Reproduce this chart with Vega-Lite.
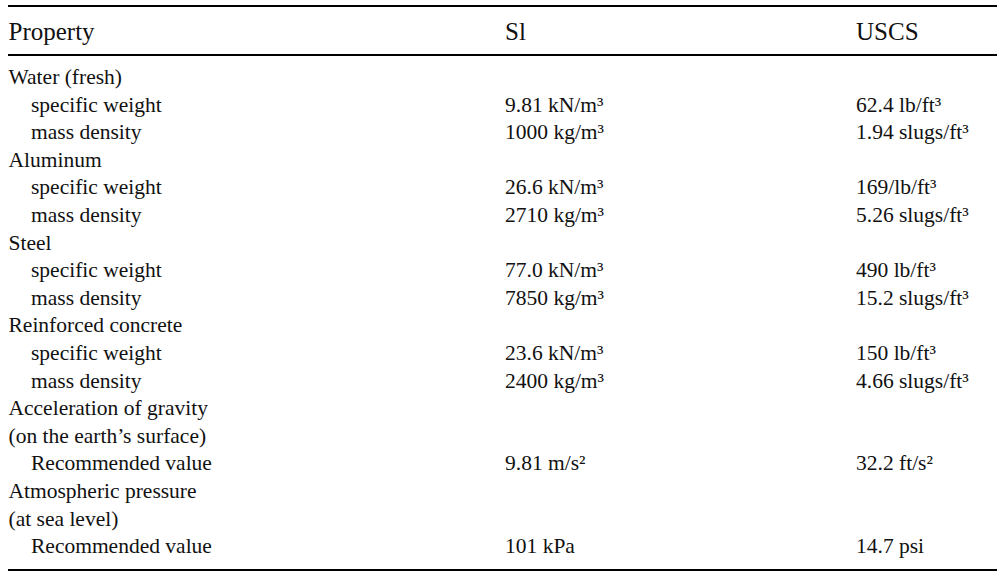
{
  "$schema": "https://vega.github.io/schema/vega-lite/v6.json",
  "autosize": {"type": "fit", "contains": "padding"},
  "width": 1007,
  "height": 573,
  "padding": {"left": 7, "right": 9, "top": 0, "bottom": 0},
  "background": "white",
  "config": {"view": {"stroke": null}},
  "datasets": {
    "cells": [
      {"row": 1, "col": 0, "text": "Water (fresh)"},
      {"row": 2, "col": 1, "text": "specific weight"},
      {"row": 2, "col": 2, "text": "9.81 kN/m³"},
      {"row": 2, "col": 3, "text": "62.4 lb/ft³"},
      {"row": 3, "col": 1, "text": "mass density"},
      {"row": 3, "col": 2, "text": "1000 kg/m³"},
      {"row": 3, "col": 3, "text": "1.94 slugs/ft³"},
      {"row": 4, "col": 0, "text": "Aluminum"},
      {"row": 5, "col": 1, "text": "specific weight"},
      {"row": 5, "col": 2, "text": "26.6 kN/m³"},
      {"row": 5, "col": 3, "text": "169/lb/ft³"},
      {"row": 6, "col": 1, "text": "mass density"},
      {"row": 6, "col": 2, "text": "2710 kg/m³"},
      {"row": 6, "col": 3, "text": "5.26 slugs/ft³"},
      {"row": 7, "col": 0, "text": "Steel"},
      {"row": 8, "col": 1, "text": "specific weight"},
      {"row": 8, "col": 2, "text": "77.0 kN/m³"},
      {"row": 8, "col": 3, "text": "490 lb/ft³"},
      {"row": 9, "col": 1, "text": "mass density"},
      {"row": 9, "col": 2, "text": "7850 kg/m³"},
      {"row": 9, "col": 3, "text": "15.2 slugs/ft³"},
      {"row": 10, "col": 0, "text": "Reinforced concrete"},
      {"row": 11, "col": 1, "text": "specific weight"},
      {"row": 11, "col": 2, "text": "23.6 kN/m³"},
      {"row": 11, "col": 3, "text": "150 lb/ft³"},
      {"row": 12, "col": 1, "text": "mass density"},
      {"row": 12, "col": 2, "text": "2400 kg/m³"},
      {"row": 12, "col": 3, "text": "4.66 slugs/ft³"},
      {"row": 13, "col": 0, "text": "Acceleration of gravity"},
      {"row": 14, "col": 0, "text": "(on the earth’s surface)"},
      {"row": 15, "col": 1, "text": "Recommended value"},
      {"row": 15, "col": 2, "text": "9.81 m/s²"},
      {"row": 15, "col": 3, "text": "32.2 ft/s²"},
      {"row": 16, "col": 0, "text": "Atmospheric pressure"},
      {"row": 17, "col": 0, "text": "(at sea level)"},
      {"row": 18, "col": 1, "text": "Recommended value"},
      {"row": 18, "col": 2, "text": "101 kPa"},
      {"row": 18, "col": 3, "text": "14.7 psi"}
    ],
    "header": [
      {"row": -0.667, "col": 0, "text": "Property"},
      {"row": -0.667, "col": 2, "text": "Sl"},
      {"row": -0.667, "col": 3, "text": "USCS"}
    ],
    "rules": [
      {"row": -1.61},
      {"row": 0.167},
      {"row": 18.83}
    ]
  },
  "encoding": {
    "y": {
      "field": "row",
      "type": "quantitative",
      "scale": {"domain": [-1.826, 18.935], "reverse": true, "nice": false, "zero": false},
      "axis": null
    }
  },
  "layer": [
    {
      "data": {"name": "rules"},
      "mark": {"type": "rule", "color": "black", "strokeWidth": 2}
    },
    {
      "data": {"name": "header"},
      "mark": {"type": "text", "align": "left", "baseline": "middle", "font": "Liberation Serif", "fontSize": 25, "color": "#111"},
      "encoding": {
        "x": {"field": "col", "type": "quantitative", "scale": {"domain": [0, 1, 2, 3], "range": [0.5, 23, 497, 848], "nice": false, "zero": false}, "axis": null},
        "text": {"field": "text"}
      }
    },
    {
      "data": {"name": "cells"},
      "mark": {"type": "text", "align": "left", "baseline": "middle", "font": "Liberation Serif", "fontSize": 21.5, "color": "#111"},
      "encoding": {
        "x": {"field": "col", "type": "quantitative", "scale": {"domain": [0, 1, 2, 3], "range": [0.5, 23, 497, 848], "nice": false, "zero": false}, "axis": null},
        "text": {"field": "text"}
      }
    }
  ]
}
